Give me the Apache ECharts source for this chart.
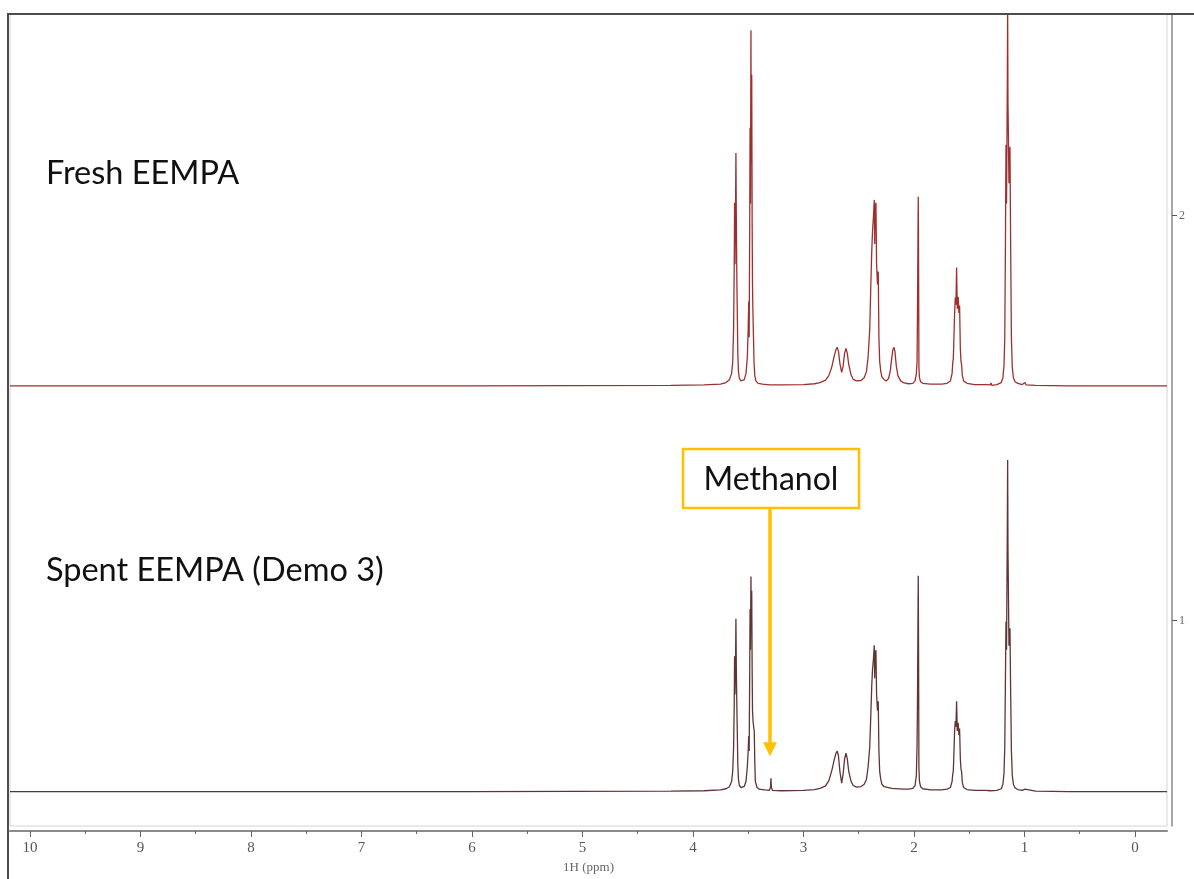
<!DOCTYPE html>
<html>
<head>
<meta charset="utf-8">
<script src="https://cdn.jsdelivr.net/npm/echarts@6/dist/echarts.min.js"></script>
<style>
  html, body { margin: 0; padding: 0; background: #fff; }
  #chart { width: 1194px; height: 879px; }
</style>
</head>
<body>
<div id="chart"></div>
<script>
// ---- data (ppm, intensity above baseline) ----
const xRange = [-0.29, 10.18];
const yRange = [0.493, 2.498];
const xTickValues = [0, 1, 2, 3, 4, 5, 6, 7, 8, 9, 10];
const xMinorTickValues = [0.5, 1.5, 2.5, 3.5, 4.5, 5.5, 6.5, 7.5, 8.5, 9.5];
const yTickValues = [1, 2];
const freshBaseline = 1.58;
const spentBaseline = 0.578;
const seriesNames = ['Fresh EEMPA', 'Spent EEMPA (Demo 3)'];
const annotationText = 'Methanol';
const methanolPpm = 3.303;

const freshSpectrum = [
  [10.18,0],[6.0,0],[4.2,0.001],[3.9,0.002],[3.75,0.004],[3.70,0.008],[3.67,0.015],[3.65,0.03],[3.64,0.06],
  [3.632,0.14],[3.626,0.30],[3.623,0.452],[3.619,0.30],[3.614,0.45],[3.611,0.575],[3.607,0.40],[3.602,0.25],
  [3.598,0.169],[3.594,0.08],[3.588,0.035],[3.58,0.018],[3.565,0.012],[3.55,0.010],[3.535,0.015],[3.52,0.03],
  [3.508,0.07],[3.50,0.14],[3.495,0.208],[3.491,0.12],[3.486,0.40],[3.483,0.637],[3.479,0.45],[3.475,0.878],
  [3.472,0.55],[3.468,0.768],[3.464,0.40],[3.461,0.25],[3.458,0.196],[3.452,0.12],[3.447,0.058],[3.44,0.025],
  [3.43,0.012],[3.41,0.006],[3.37,0.004],[3.33,0.003],[3.30,0.002],[3.285,0.006],[3.275,0.002],[3.2,0.002],
  [3.0,0.003],[2.9,0.005],[2.85,0.008],[2.80,0.014],[2.77,0.025],[2.745,0.045],[2.72,0.075],[2.705,0.09],
  [2.694,0.095],[2.683,0.085],[2.67,0.055],[2.654,0.033],[2.64,0.05],[2.628,0.08],[2.615,0.092],[2.603,0.08],
  [2.59,0.052],[2.57,0.028],[2.55,0.016],[2.52,0.012],[2.48,0.013],[2.45,0.02],[2.43,0.035],[2.415,0.07],
  [2.40,0.14],[2.39,0.25],[2.382,0.33],[2.375,0.38],[2.366,0.42],[2.359,0.459],[2.355,0.35],[2.351,0.44],
  [2.344,0.452],[2.338,0.30],[2.33,0.25],[2.323,0.282],[2.317,0.12],[2.31,0.06],[2.30,0.035],[2.29,0.022],
  [2.27,0.015],[2.25,0.012],[2.23,0.018],[2.215,0.035],[2.2,0.07],[2.19,0.09],[2.181,0.095],[2.172,0.085],
  [2.16,0.05],[2.145,0.025],[2.12,0.012],[2.09,0.007],[2.05,0.005],[2.01,0.006],[1.99,0.012],[1.978,0.03],
  [1.972,0.06],[1.968,0.171],[1.964,0.35],[1.961,0.467],[1.958,0.30],[1.955,0.045],[1.95,0.02],[1.94,0.01],
  [1.92,0.006],[1.85,0.004],[1.75,0.004],[1.7,0.006],[1.67,0.012],[1.655,0.03],[1.648,0.06],[1.644,0.065],
  [1.64,0.10],[1.632,0.18],[1.626,0.218],[1.62,0.20],[1.614,0.292],[1.608,0.19],[1.60,0.22],[1.593,0.18],
  [1.587,0.198],[1.58,0.09],[1.574,0.06],[1.569,0.053],[1.562,0.025],[1.55,0.012],[1.52,0.006],[1.45,0.003],
  [1.35,0.003],[1.31,0.002],[1.303,0.007],[1.295,0.001],[1.25,0.003],[1.21,0.008],[1.195,0.02],[1.185,0.05],
  [1.178,0.12],[1.172,0.35],[1.167,0.595],[1.162,0.45],[1.155,0.75],[1.152,0.93],[1.149,0.7],[1.14,0.50],
  [1.131,0.59],[1.125,0.35],[1.118,0.12],[1.11,0.045],[1.10,0.02],[1.085,0.01],[1.06,0.006],[1.02,0.003],
  [0.995,0.008],[0.985,0.002],[0.9,0.001],[0.6,0],[-0.29,0]
];

const spentSpectrum = [
  [10.18,0],[6.0,0],[4.2,0.001],[3.9,0.002],[3.75,0.004],[3.70,0.007],[3.67,0.012],[3.65,0.025],[3.64,0.05],
  [3.632,0.11],[3.626,0.22],[3.623,0.334],[3.619,0.24],[3.614,0.33],[3.611,0.427],[3.607,0.30],[3.602,0.20],
  [3.598,0.139],[3.594,0.07],[3.588,0.03],[3.58,0.015],[3.565,0.010],[3.55,0.009],[3.535,0.013],[3.52,0.025],
  [3.508,0.06],[3.50,0.10],[3.495,0.137],[3.491,0.10],[3.486,0.30],[3.483,0.45],[3.479,0.35],[3.475,0.531],
  [3.472,0.40],[3.468,0.496],[3.464,0.30],[3.461,0.20],[3.455,0.17],[3.445,0.149],[3.44,0.07],[3.435,0.025],
  [3.42,0.01],[3.40,0.006],[3.37,0.005],[3.36,0.009],[3.35,0.004],[3.31,0.003],[3.298,0.01],[3.294,0.033],
  [3.29,0.01],[3.28,0.003],[3.2,0.002],[3.0,0.003],[2.9,0.005],[2.85,0.008],[2.80,0.014],[2.77,0.027],
  [2.745,0.05],[2.72,0.08],[2.705,0.095],[2.694,0.10],[2.683,0.088],[2.67,0.05],[2.654,0.021],[2.64,0.045],
  [2.628,0.08],[2.615,0.095],[2.603,0.08],[2.59,0.05],[2.57,0.026],[2.55,0.015],[2.52,0.011],[2.48,0.012],
  [2.45,0.018],[2.43,0.03],[2.415,0.06],[2.40,0.11],[2.39,0.19],[2.382,0.26],[2.375,0.30],[2.366,0.33],
  [2.359,0.361],[2.355,0.28],[2.351,0.34],[2.344,0.349],[2.338,0.24],[2.33,0.20],[2.323,0.223],[2.317,0.10],
  [2.31,0.05],[2.30,0.03],[2.29,0.018],[2.27,0.012],[2.2,0.008],[2.1,0.006],[2.05,0.006],[2.01,0.008],
  [1.99,0.015],[1.978,0.04],[1.972,0.112],[1.968,0.218],[1.964,0.40],[1.961,0.533],[1.958,0.34],[1.955,0.06],
  [1.95,0.025],[1.94,0.012],[1.92,0.007],[1.85,0.004],[1.75,0.004],[1.7,0.006],[1.67,0.01],[1.655,0.025],
  [1.648,0.045],[1.644,0.05],[1.64,0.08],[1.632,0.15],[1.626,0.174],[1.62,0.16],[1.614,0.223],[1.608,0.15],
  [1.60,0.17],[1.593,0.14],[1.587,0.156],[1.58,0.08],[1.574,0.055],[1.569,0.05],[1.562,0.022],[1.55,0.01],
  [1.52,0.005],[1.45,0.003],[1.35,0.003],[1.31,0.002],[1.303,0.005],[1.295,0.001],[1.25,0.003],[1.21,0.007],
  [1.195,0.018],[1.185,0.045],[1.178,0.11],[1.172,0.28],[1.167,0.42],[1.162,0.35],[1.155,0.65],[1.152,0.819],
  [1.149,0.6],[1.14,0.36],[1.131,0.403],[1.125,0.25],[1.118,0.10],[1.11,0.04],[1.10,0.018],[1.085,0.009],
  [1.06,0.005],[1.02,0.003],[0.995,0.006],[0.985,0.002],[0.9,0.001],[0.6,0],[-0.29,0]
];

// ---- chart ----
const chart = echarts.init(document.getElementById('chart'), null, { renderer: 'canvas' });
const serifFont = '"Liberation Serif", "DejaVu Serif", serif';
const textFont = 'Lato, "Open Sans", sans-serif';

const option = {
  animation: false,
  backgroundColor: '#ffffff',
  grid: {
    left: 10, right: 27, top: 14, bottom: 51,
    show: true, borderColor: '#d4d4d4', borderWidth: 1, backgroundColor: 'transparent'
  },
  xAxis: [{
    type: 'value', min: xRange[0], max: xRange[1], inverse: true, position: 'bottom', offset: 5,
    axisLine: { show: true, onZero: false, lineStyle: { color: '#8a8a8a', width: 2 } },
    axisTick: { show: true, customValues: xTickValues, length: 6, lineStyle: { color: '#666', width: 1 } },
    axisLabel: { show: true, customValues: xTickValues, margin: 10, fontFamily: serifFont, fontSize: 15, color: '#555' },
    splitLine: { show: false },
    name: '1H (ppm)', nameLocation: 'middle', nameGap: 30,
    nameTextStyle: { fontFamily: serifFont, fontSize: 13, color: '#666' }
  }, {
    type: 'value', min: xRange[0], max: xRange[1], inverse: true, position: 'bottom', offset: 5,
    axisLine: { show: false, onZero: false },
    axisTick: { show: true, customValues: xMinorTickValues, length: 3, lineStyle: { color: '#666', width: 1 } },
    axisLabel: { show: false },
    splitLine: { show: false }
  }],
  yAxis: {
    type: 'value', min: yRange[0], max: yRange[1], position: 'right', offset: 5,
    axisLine: { show: true, onZero: false, lineStyle: { color: '#8a8a8a', width: 1.5 } },
    axisTick: { show: true, customValues: yTickValues, length: 5, lineStyle: { color: '#555' } },
    axisLabel: { show: true, customValues: yTickValues, margin: 7, fontFamily: serifFont, fontSize: 12, color: '#666' },
    splitLine: { show: false }
  },
  series: [{
    name: seriesNames[0], type: 'line', xAxisIndex: 0, showSymbol: false, symbol: 'none', clip: true,
    lineStyle: { color: '#8e0a0a', width: 1.3, opacity: 0.85 },
    data: freshSpectrum.map(p => [p[0], freshBaseline + p[1]])
  }, {
    name: seriesNames[1], type: 'line', xAxisIndex: 0, showSymbol: false, symbol: 'none', clip: true,
    lineStyle: { color: '#451010', width: 1.3, opacity: 0.85 },
    data: spentSpectrum.map(p => [p[0], spentBaseline + p[1]])
  }]
};
chart.setOption(option);

// ---- annotations (positioned through the chart's own scales) ----
const toPx = (x, y) => chart.convertToPixel({ gridIndex: 0 }, [x, y]);
const arrowTop = toPx(methanolPpm, 1.278);
const arrowTip = toPx(methanolPpm, 0.665);
const ax = Math.round(arrowTop[0]);
const headH = 14, headW = 14;
const boxW = 176, boxH = 59;
const boxX = ax - 87, boxY = arrowTop[1] - boxH;
const freshLabelPos = toPx(9.855, 2.11);
const spentLabelPos = toPx(9.855, 1.13);

chart.setOption({
  graphic: [
    // outer frame
    { type: 'line', shape: { x1: 8, y1: 14, x2: 1194, y2: 14 }, style: { stroke: '#4d4d4d', lineWidth: 2 }, z: 100 },
    { type: 'line', shape: { x1: 8, y1: 13, x2: 8, y2: 879 }, style: { stroke: '#4d4d4d', lineWidth: 2 }, z: 100 },
    // sample labels
    { type: 'text', left: freshLabelPos[0], top: freshLabelPos[1] - 14,
      style: { text: seriesNames[0], font: '32.5px ' + textFont, fill: '#111' }, z: 50 },
    { type: 'text', left: spentLabelPos[0], top: spentLabelPos[1] - 14,
      style: { text: seriesNames[1], font: '32.5px ' + textFont, fill: '#111' }, z: 50 },
    // methanol box
    { type: 'rect', shape: { x: boxX, y: boxY, width: boxW, height: boxH },
      style: { fill: '#fff', stroke: '#FFC000', lineWidth: 2.5 }, z: 60 },
    { type: 'text', x: boxX + boxW / 2, y: boxY + boxH / 2 + 1,
      style: { text: annotationText, font: '32px ' + textFont, fill: '#111', textAlign: 'center', textVerticalAlign: 'middle' }, z: 61 },
    // arrow
    { type: 'line', shape: { x1: ax, y1: boxY + boxH + 1, x2: ax, y2: arrowTip[1] - headH + 1 },
      style: { stroke: '#FFC000', lineWidth: 3.5 }, z: 60 },
    { type: 'polygon', shape: { points: [[ax - headW / 2, arrowTip[1] - headH], [ax + headW / 2, arrowTip[1] - headH], [ax, arrowTip[1]]] },
      style: { fill: '#FFC000' }, z: 60 }
  ]
});
</script>
</body>
</html>
